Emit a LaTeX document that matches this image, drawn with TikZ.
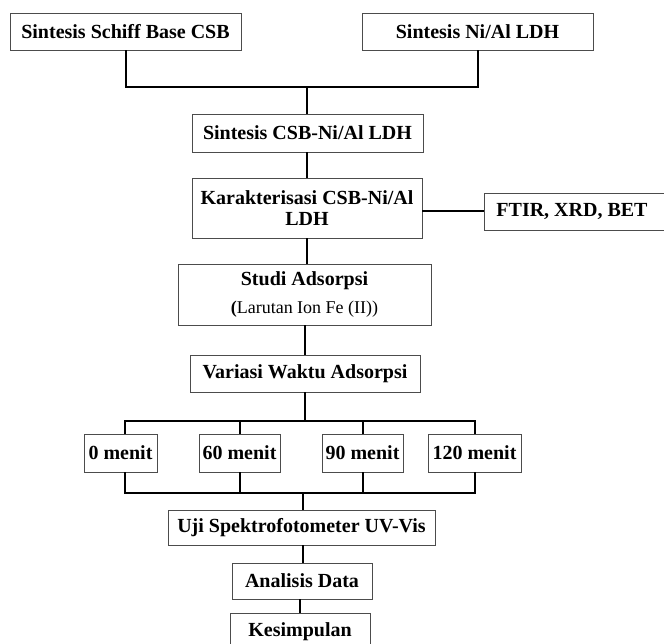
\documentclass[tikz,border=0pt]{standalone}
\usepackage{fontspec}
\setmainfont{Liberation Serif}
\begin{document}
\begin{tikzpicture}[x=1pt,y=-1pt,
  box/.style={draw=black!70, line width=0.9pt, rectangle, inner sep=0pt, align=center,
    font=\fontsize{20}{21}\selectfont\bfseries},
  conn/.style={line width=2pt, black}]
\useasboundingbox (0,0) rectangle (664,644);
\clip (0,0) rectangle (664,644);
\fill[white] (0,0) rectangle (664,644);
\node[box, minimum width=231pt, minimum height=37pt] (b1) at (125.5,31.5) {Sintesis Schiff Base CSB};
\node[box, minimum width=231pt, minimum height=37pt] (b2) at (477.5,31.5) {Sintesis Ni/Al LDH};
\node[box, minimum width=231pt, minimum height=38pt] (b3) at (307.5,133) {Sintesis CSB-Ni/Al LDH};
\node[box, minimum width=230pt, minimum height=60pt] (b4) at (307,208) {Karakterisasi CSB-Ni/Al\\LDH};
\node[box, minimum width=184pt, minimum height=37pt] (b5) at (576,211.5) {\hspace*{-8pt}FTIR, XRD, BET};
\node[box, minimum width=253pt, minimum height=61pt] (b6) at (304.5,294.5) {Studi Adsorpsi\\[7pt]{\fontsize{18}{20}\selectfont(\mdseries Larutan Ion Fe (II))}};
\node[box, minimum width=230pt, minimum height=37pt] (b7) at (305,373.5) {Variasi Waktu Adsorpsi};
\node[box, minimum width=73pt, minimum height=38pt] (t0) at (120.5,453) {0 menit};
\node[box, minimum width=81pt, minimum height=38pt] (t1) at (239.5,453) {60 menit};
\node[box, minimum width=81pt, minimum height=38pt] (t2) at (362.5,453) {90 menit};
\node[box, minimum width=93pt, minimum height=38pt] (t3) at (474.5,453) {120 menit};
\node[box, minimum width=267pt, minimum height=35pt] (u) at (301.5,527.5) {Uji Spektrofotometer UV-Vis};
\node[box, minimum width=140pt, minimum height=36pt] (a) at (302,581) {Analisis Data};
\node[box, minimum width=140pt, minimum height=38pt] (k) at (300,632) {Kesimpulan};
% junctions
\coordinate (m1) at (307,87);
\coordinate (j0) at (125,421);
\coordinate (j1) at (240,421);
\coordinate (j2) at (363,421);
\coordinate (j3) at (475,421);
\coordinate (m2) at (305,421);
\coordinate (q0) at (125,493);
\coordinate (q3) at (475,493);
\coordinate (m3) at (303,493);
% connectors
\draw[conn] (b1.south) |- (m1) -| (b2.south);
\draw[conn] (m1) -- (m1 |- b3.north);
\draw[conn] (b3.south -| m1) -- (b4.north -| m1);
\draw[conn] (b5.west -| b4.east) -- (b5.west);
\draw[conn] (b4.south) -- (b4.south |- b6.north);
\draw[conn] (b6.south -| m2) -- (b7.north -| m2);
\draw[conn] (b7.south -| m2) -- (m2);
\draw[conn] (j0 |- t0.north) -- (j0) -- (j3) -- (j3 |- t3.north);
\draw[conn] (j1) -- (j1 |- t1.north);
\draw[conn] (j2) -- (j2 |- t2.north);
\draw[conn] (q0 |- t0.south) -- (q0) -- (q3) -- (q3 |- t3.south);
\draw[conn] (j1 |- t1.south) -- (j1 |- q0);
\draw[conn] (j2 |- t2.south) -- (j2 |- q0);
\draw[conn] (m3) -- (m3 |- u.north);
\draw[conn] (u.south -| m3) -- (a.north -| m3);
\draw[conn] (a.south -| k) -- (k.north);
\end{tikzpicture}
\end{document}
